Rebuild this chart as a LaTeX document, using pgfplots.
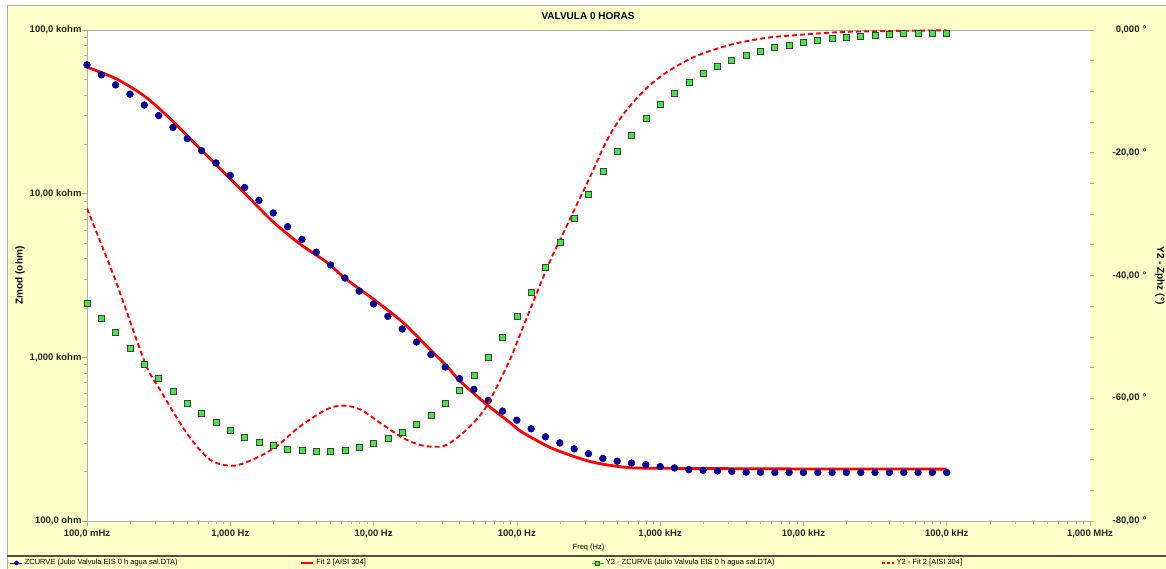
\documentclass[border=0pt]{standalone}
\usepackage{fontspec}
\setmainfont{Liberation Sans}
\usepackage{pgfplots}
\pgfplotsset{compat=1.18}
\usepackage{pgfplotstable}

\definecolor{bgy}{RGB}{255,255,200}
\definecolor{dotblue}{RGB}{0,0,170}
\definecolor{sqgreen}{RGB}{70,230,70}
\definecolor{framegray}{RGB}{175,175,175}
\definecolor{sepline}{RGB}{90,75,65}

\pgfplotstableread{
f z p
0.1 61200 -44.6
0.1259 53200 -46.9
0.1585 46200 -49.3
0.1995 40500 -51.9
0.2512 34800 -54.4
0.3162 30000 -56.8
0.3981 25400 -58.8
0.5012 21700 -60.8
0.631 18300 -62.4
0.7943 15400 -63.9
1 12900 -65.2
1.259 10900 -66.3
1.585 9100 -67.1
1.995 7620 -67.6
2.512 6280 -68.3
3.162 5250 -68.5
3.981 4390 -68.6
5.012 3670 -68.6
6.31 3050 -68.4
7.943 2540 -68.0
10 2120 -67.4
12.59 1780 -66.6
15.85 1490 -65.6
19.95 1240 -64.3
25.12 1040 -62.8
31.62 873 -60.9
39.81 741 -58.7
50.12 637 -56.3
63.1 545 -53.4
79.43 469 -50.0
100 413 -46.6
125.9 366 -42.7
158.5 327 -38.7
199.5 300 -34.6
251.2 276 -30.6
316.2 258 -26.8
398.1 241 -23.1
501.2 232 -19.8
631 226 -17.1
794.3 221 -14.4
1000 215 -12.1
1259 211 -10.3
1585 206 -8.5
1995 204 -7.1
2512 202 -5.9
3162 201 -5.0
3981 199 -4.2
5012 198.5 -3.5
6310 198 -2.9
7943 198 -2.5
10000 198 -2.0
12590 198 -1.75
15850 198 -1.4
19950 198 -1.2
25120 198 -1.0
31620 198 -0.8
39810 198 -0.65
50120 198 -0.6
63100 198 -0.55
79430 198 -0.55
100000 198 -0.5
}\zdata

\pgfplotstableread{
f z
0.1 59300
0.161 50200
0.254 39200
0.379 28800
0.552 20700
0.804 14900
1.05 11800
1.61 8090
2.0 6700
3.06 4930
4.71 3810
6.41 3010
9.95 2270
16.1 1630
23.5 1170
32.4 885
40.1 716
61.7 515
89.5 399
105 356
138 310
185 273
324 231
568 213
998 210
10000 208
100000 207.5
}\zfit

\pgfplotstableread{
f p
0.1 -29.1
0.157 -40.6
0.254 -54.2
0.323 -58.6
0.497 -65.7
0.721 -70.0
1.05 -71.0
1.53 -69.7
2.11 -67.8
3.06 -64.6
4.71 -61.8
6.15 -61.2
8.04 -61.8
11.1 -64.0
16.1 -66.5
21.1 -67.6
26.1 -67.9
32.4 -67.6
44.7 -65.1
61.5 -61.3
89.5 -53.7
105 -49.7
165 -38.4
207 -33.5
260 -28.6
325 -23.9
431 -17.7
571 -13.3
802 -9.5
1125 -6.8
1762 -4.3
3097 -2.4
5445 -1.3
9572 -0.77
16790 -0.38
29510 -0.21
100000 -0.05
}\pfit

\begin{document}
\begin{tikzpicture}
\useasboundingbox (0pt,0pt) rectangle (1166pt,569pt);
\fill[white] (0pt,0pt) rectangle (1166pt,569pt);
\fill[bgy] (7pt,0pt) rectangle (1166pt,563pt);
\draw[framegray, line width=1pt] (7pt,0pt) -- (7pt,563pt) -- (1166pt,563pt);
\draw[sepline, line width=1.2pt] (7pt,13pt) -- (1166pt,13pt);
\node[font=\bfseries\fontsize{10}{12}\selectfont] at (588pt,553pt) {VALVULA 0 HORAS};

\begin{axis}[
  at={(87pt,48pt)}, anchor=south west,
  width=1003pt, height=491pt, scale only axis,
  xmode=log, ymode=log,
  xmin=0.1, xmax=1e6, ymin=100, ymax=1e5,
  axis background/.style={fill=white},
  separate axis lines,
  axis x line=box, axis y line*=left,
  xtick pos=bottom, ytick pos=left,
  axis line style={framegray, line width=0.8pt},
  tick style={framegray, line width=0.7pt},
  tick align=outside, major tick length=5pt, minor tick length=3pt,
  xtick={0.1,1,10,100,1000,10000,100000,1000000},
  xticklabels={{100,0 mHz},{1,000 Hz},{10,00 Hz},{100,0 Hz},{1,000 kHz},{10,00 kHz},{100,0 kHz},{1,000 MHz}},
  minor xtick={0.2,0.3,0.4,0.5,0.6,0.7,0.8,0.9,2,3,4,5,6,7,8,9,20,30,40,50,60,70,80,90,200,300,400,500,600,700,800,900,2000,3000,4000,5000,6000,7000,8000,9000,20000,30000,40000,50000,60000,70000,80000,90000,200000,300000,400000,500000,600000,700000,800000,900000},
  ytick={100,1000,10000,100000},
  yticklabels={{100,0 ohm},{1,000 kohm},{10,00 kohm},{100,0 kohm}},
  minor ytick={200,300,400,500,600,700,800,900,2000,3000,4000,5000,6000,7000,8000,9000,20000,30000,40000,50000,60000,70000,80000,90000},
  ticklabel style={font=\bfseries\fontsize{9.5}{11}\selectfont, text=black!85},
  yticklabel style={xshift=3pt},
  xlabel={Freq (Hz)},
  every axis x label/.style={at={(axis description cs:0.5,-0.055)}, anchor=center, font=\fontsize{7.5}{9}\selectfont},
  ylabel={Zmod (ohm)},
  every axis y label/.style={at={(axis description cs:-0.0668,0.5)}, rotate=90, anchor=center, font=\bfseries\fontsize{10}{12}\selectfont},
  legend columns=4,
  legend cell align=left,
  legend style={at={(axis description cs:-0.0768,-0.0855)}, anchor=west, draw=none, fill=none,
     font=\fontsize{7.5}{9}\selectfont, inner xsep=0pt, inner ysep=0pt},
  legend image code/.code={\draw[mark repeat=2,mark phase=2,#1] plot coordinates {(0pt,0pt) (6pt,0pt) (12pt,0pt)};},
]
\addlegendimage{dotblue, line width=0.6pt, mark=*, mark size=2pt, mark options={solid, fill=dotblue}}
\addlegendentry{\makebox[273pt][l]{ZCURVE (Julio Valvula EIS 0 h agua sal.DTA)}}
\addlegendimage{red, line width=2.5pt}
\addlegendentry{\makebox[273pt][l]{Fit 2 [AISI 304]}}
\addlegendimage{sqgreen!70!black, line width=0.6pt, mark=square*, mark size=2pt, mark options={solid, fill=sqgreen, draw=sqgreen!50!black}}
\addlegendentry{\makebox[273pt][l]{Y2 - ZCURVE (Julio Valvula EIS 0 h agua sal.DTA)}}
\addlegendimage{red, line width=1.8pt, dash pattern=on 3pt off 2pt}
\addlegendentry{Y2 - Fit 2 [AISI 304]}

\addplot[forget plot, only marks, mark=*, mark size=3.4pt,
  mark options={fill=dotblue, draw=dotblue!55!black, line width=0.5pt}] table[x=f,y=z]{\zdata};
\addplot[forget plot, red, line width=2.8pt, smooth] table[x=f,y=z]{\zfit};
\end{axis}

\begin{axis}[
  at={(87pt,48pt)}, anchor=south west,
  width=1003pt, height=491pt, scale only axis,
  xmode=log, xmin=0.1, xmax=1e6, ymin=-80, ymax=0,
  axis x line=none, axis y line*=right,
  y axis line style={draw=none},
  tick style={framegray, line width=0.7pt},
  tick align=outside, major tick length=4pt, minor tick length=4pt,
  ytick={-80,-60,-40,-20,0},
  yticklabels={{-80,00 °},{-60,00 °},{-40,00 °},{-20,00 °},{0,000 °}},
  minor ytick={-75,-70,-65,-55,-50,-45,-35,-30,-25,-15,-10,-5},
  yticklabel style={font=\bfseries\fontsize{9.5}{11}\selectfont, text=black!85, anchor=west, text width=49pt, align=right},
  ylabel={Y2 - Zphz (°)},
  every axis y label/.style={at={(axis description cs:1.0698,0.5)}, rotate=-90, anchor=center, font=\bfseries\fontsize{10}{12}\selectfont},
]
\addplot[only marks, mark=square*, mark size=3pt,
  mark options={fill=sqgreen, draw=black!75, line width=0.6pt}] table[x=f,y=p]{\zdata};
\addplot[red, line width=1.9pt, dash pattern=on 5pt off 3pt, smooth] table[x=f,y=p]{\pfit};
\end{axis}
\end{tikzpicture}
\end{document}
